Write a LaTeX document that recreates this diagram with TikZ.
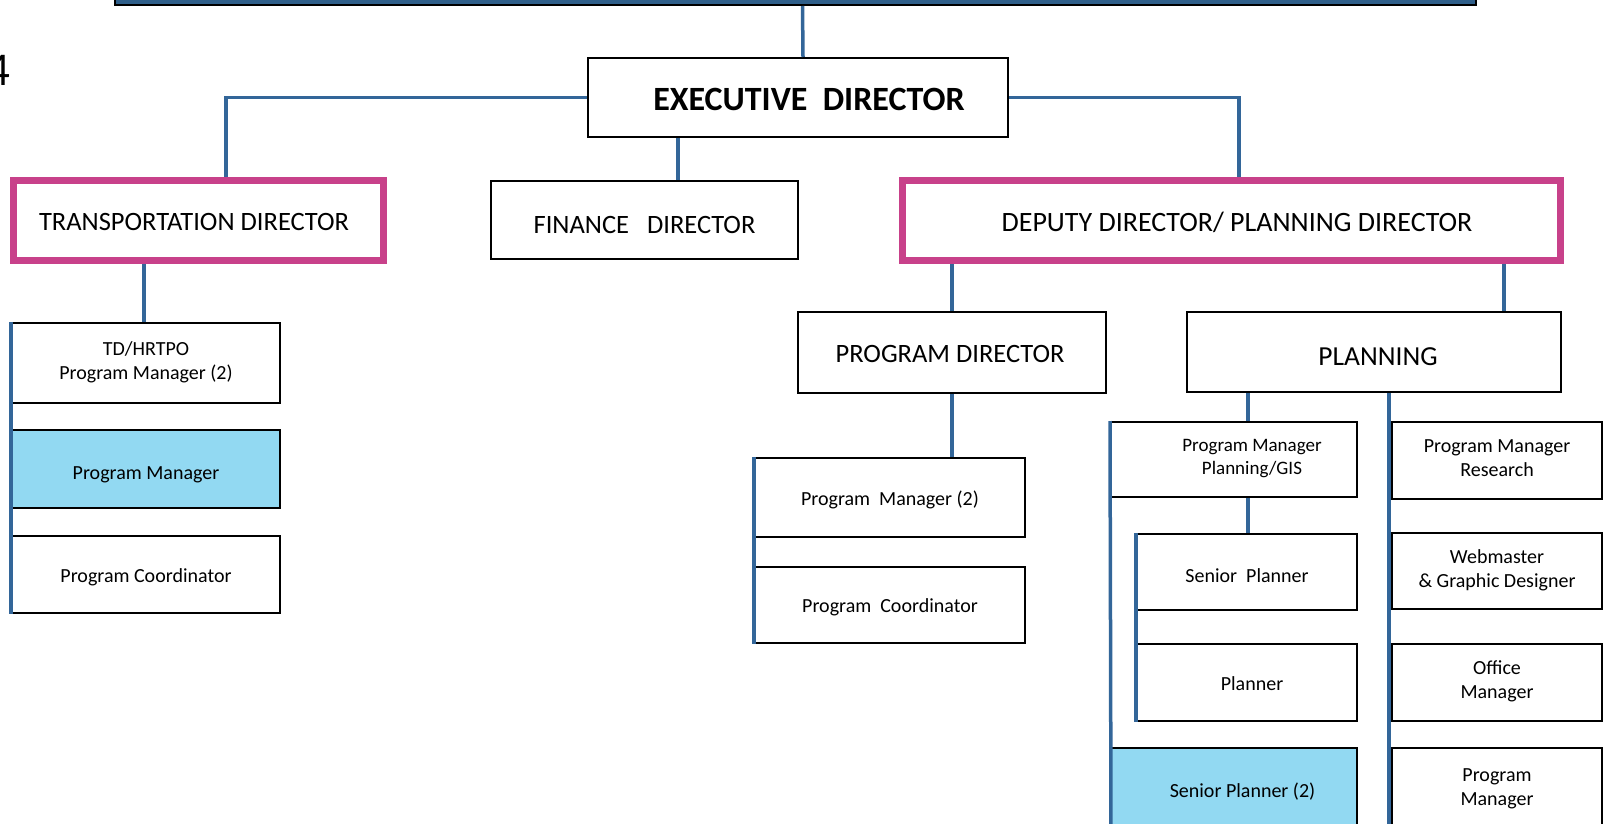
\documentclass[tikz,border=0pt]{standalone}
\usepackage{fontspec}
\setmainfont{Carlito}
\definecolor{conn}{HTML}{336699}
\definecolor{magen}{HTML}{C8418A}
\definecolor{lblue}{HTML}{92D9F2}
\definecolor{topblue}{HTML}{2F5F8A}
\newcommand{\vstrut}{\rule[-0.25em]{0pt}{1.25em}}
\newcommand{\planstrut}{\rule[-0.2em]{0pt}{1.46em}}
\newcommand{\gisstrut}{\rule[-0.2em]{0pt}{1.88em}}
\tikzset{
  bx/.style={draw=black, line width=2pt, fill=white, inner sep=0pt, align=center,
    font=\fontsize{20}{24}\selectfont,
    execute at begin node=\vstrut, execute at end node=\vstrut},
  hl/.style={bx, fill=lblue},
  dirbox/.style={draw=magen, line width=7pt, fill=white, inner sep=0pt, align=center,
    font=\fontsize{26.5}{31}\selectfont,
    execute at begin node=\vstrut, execute at end node=\vstrut},
  midbox/.style={bx, font=\fontsize{26.5}{31}\selectfont},
  low/.style={execute at begin node=\planstrut},
  cn/.style={draw=conn, line width=3.5pt},
}
\begin{document}
\begin{tikzpicture}[x=1pt,y=-1pt]
\useasboundingbox (0,0) rectangle (1606,824);
% top board (mostly outside the picture)
\node[draw=black, line width=2pt, fill=topblue, minimum width=1361pt, minimum height=104pt, inner sep=0pt] (board) at (795.5,-47) {};
\node[anchor=base east, inner sep=0pt, font=\fontsize{47}{56}\selectfont] (pg) at (11,86) {4};
% level 1
\node[bx, minimum width=420pt, minimum height=79pt, font=\fontsize{34}{40}\selectfont\bfseries] (exec) at (798,97.5) {\hspace*{22pt}EXECUTIVE~~DIRECTOR};
% level 2
\node[dirbox, minimum width=370pt, minimum height=80pt] (trans) at (198.5,220.5) {TRANSPORTATION DIRECTOR\hspace*{9pt}};
\node[midbox, low, minimum width=307pt, minimum height=78pt] (fin) at (644.5,220) {FINANCE~~~DIRECTOR};
\node[dirbox, minimum width=658pt, minimum height=80pt, font=\fontsize{28}{33}\selectfont] (dep) at (1231.5,220.5) {\hspace*{11pt}DEPUTY DIRECTOR/ PLANNING DIRECTOR};
% transportation column
\node[bx, low, minimum width=268pt, minimum height=80pt] (td) at (146,363) {TD/HRTPO\\Program Manager (2)};
\node[hl, low, minimum width=268pt, minimum height=78pt] (tpm) at (146,469) {Program Manager};
\node[bx, minimum width=268pt, minimum height=77pt] (tpc) at (146,574.5) {Program Coordinator};
% program director
\node[midbox, minimum width=308pt, minimum height=81pt] (pd) at (952,352.5) {PROGRAM DIRECTOR\hspace*{4pt}};
\node[bx, minimum width=270pt, minimum height=79pt] (pm2) at (890,497.5) {Program\hspace{0.45em}Manager (2)};
\node[bx, minimum width=270pt, minimum height=76pt] (pc2) at (890,605) {Program\hspace{0.45em}Coordinator};
% planning
\node[midbox, low, minimum width=374pt, minimum height=80pt, font=\fontsize{27.5}{33}\selectfont] (plan) at (1374,352) {\hspace*{8pt}PLANNING};
\node[bx, minimum width=246pt, minimum height=75pt, font=\fontsize{19}{23}\selectfont,
  execute at begin node=\gisstrut] (gis) at (1234,459.5) {\hspace*{36pt}Program Manager\\\hspace*{36pt}Planning/GIS};
\node[bx, low, minimum width=220pt, minimum height=76pt] (sp) at (1247,572) {Senior~~Planner};
\node[bx, minimum width=220pt, minimum height=77pt] (pl) at (1247,682.5) {\hspace*{10pt}Planner};
\node[hl, minimum width=246pt, minimum height=84pt] (sp2) at (1234,790) {\hspace*{17pt}Senior Planner (2)};
\node[bx, low, minimum width=210pt, minimum height=77pt] (res) at (1497,460.5) {Program Manager\\Research};
\node[bx, low, minimum width=210pt, minimum height=76pt] (web) at (1497,571) {Webmaster\\\& Graphic Designer};
\node[bx, low, minimum width=210pt, minimum height=77pt] (off) at (1497,682.5) {Office\\Manager};
\node[bx, minimum width=210pt, minimum height=84pt] (pmr) at (1497,790) {Program\\Manager};
% bottom ends of bars
\coordinate (gisbarend) at (1111,830);
\coordinate (resbarend) at (1389,830);
% connectors
\draw[cn] ([xshift=7pt]board.south) -- ([xshift=5pt]exec.north);
\draw[cn] (exec.west) -| ([xshift=27.5pt]trans.north);
\draw[cn] (exec.east) -| ([xshift=7.5pt]dep.north);
\draw[cn] ([xshift=-120pt]exec.south) -- ([xshift=33.5pt]fin.north);
\draw[cn] ([xshift=-54.5pt]trans.south) -- ([xshift=-2pt]td.north);
\draw[cn] (td.north west) -- (tpc.south west);
\draw[cn] ([xshift=-279.5pt]dep.south) -- (pd.north);
\draw[cn] ([xshift=272.5pt]dep.south) -- ([xshift=130pt]plan.north);
\draw[cn] (pd.south) -- ([xshift=62pt]pm2.north);
\draw[cn] (pm2.north west) -- (pc2.south west);
\draw[cn] ([xshift=-126pt]plan.south) -- ([xshift=14pt]gis.north);
\draw[cn] ([xshift=14pt]gis.south) -- ([xshift=1pt]sp.north);
\draw[cn] (gis.north west) -- (gisbarend);
\draw[cn] (sp.north west) -- (pl.south west);
\draw[cn] ([xshift=15pt]plan.south) -- (resbarend);
\end{tikzpicture}
\end{document}
